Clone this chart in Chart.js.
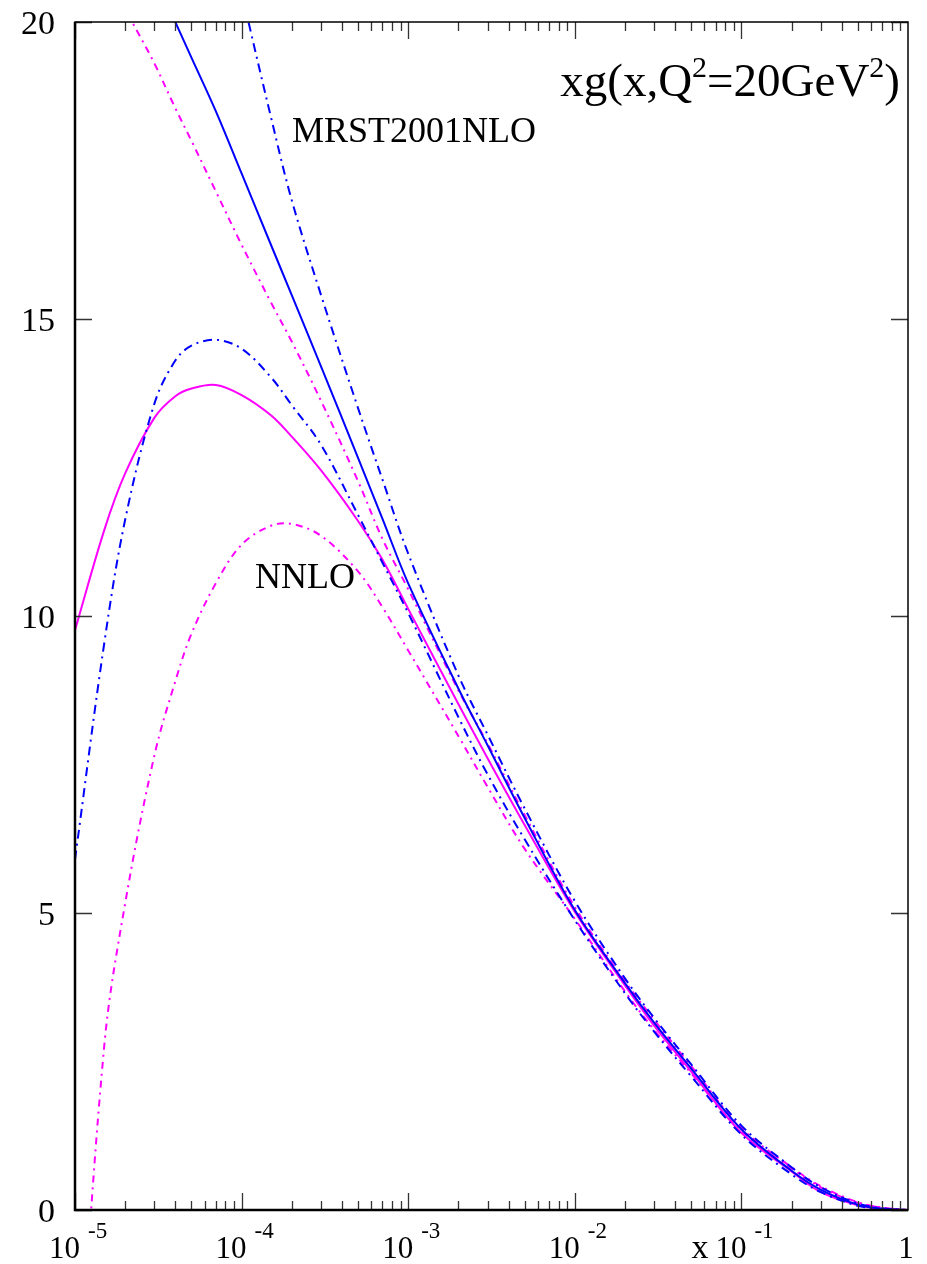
<!DOCTYPE html>
<html>
<head>
<meta charset="utf-8">
<script src="https://cdn.jsdelivr.net/npm/chart.js@4.4.1/dist/chart.umd.min.js"></script>
<style>
  body { margin: 0; background: #fff; }
  #wrap { width: 927px; height: 1264px; position: relative; }
</style>
</head>
<body>
<div id="wrap"><canvas id="chart"></canvas></div>
<script>
// x grid shared by all curves
const xVals = [1e-5, 1.5e-5, 2e-5, 3e-5, 4e-5, 5e-5, 7e-5, 1e-4, 1.5e-4, 2e-4, 3e-4, 5e-4, 7e-4,
  1e-3, 2e-3, 3e-3, 5e-3, 1e-2, 2e-2, 3e-2, 5e-2, 0.1, 0.2, 0.3, 0.5, 0.7, 1];

// MRST2001 NLO (blue)
const nloCentral = [24.0, 22.8, 21.85, 20.75, 20.0, 19.4, 18.5, 17.45, 16.25, 15.4, 14.2, 12.66, 11.64,
  10.55, 8.78, 7.82, 6.6, 5.05, 3.82, 3.15, 2.38, 1.36, 0.66, 0.34, 0.09, 0.02, 0];
const nloUpper = [null, null, null, null, null, null, 22.4, 20.5, 18.4, 17.0, 15.4, 13.5, 12.3,
  11.05, 9.0, 8.0, 6.76, 5.2, 3.9, 3.23, 2.45, 1.42, 0.72, 0.38, 0.11, 0.03, 0];
const nloLower = [5.9, 9.55, 11.62, 13.58, 14.3, 14.55, 14.65, 14.5, 14.02, 13.55, 12.88, 11.7, 10.9,
  10.05, 8.3, 7.33, 6.24, 4.88, 3.65, 3.0, 2.25, 1.27, 0.6, 0.3, 0.07, 0.02, 0];

// NNLO (magenta)
const nnloCentral = [9.76, 11.45, 12.4, 13.34, 13.7, 13.83, 13.89, 13.72, 13.38, 13.02, 12.45, 11.6, 10.95,
  10.12, 8.52, 7.6, 6.48, 5.02, 3.78, 3.1, 2.33, 1.3, 0.65, 0.3, 0.08, 0.02, 0];
const nnloUpper = [22.2, 21.2, 20.25, 19.3, 18.55, 18.0, 17.15, 16.25, 15.28, 14.62, 13.62, 12.27, 11.3,
  10.45, 8.75, 7.85, 6.65, 5.1, 3.85, 3.2, 2.42, 1.38, 0.72, 0.4, 0.13, 0.04, 0];
const nnloLower = [-4.0, 2.78, 5.16, 7.66, 8.9, 9.7, 10.55, 11.2, 11.52, 11.55, 11.35, 10.75, 10.15,
  9.42, 7.98, 7.12, 6.08, 4.9, 3.68, 3.03, 2.3, 1.32, 0.7, 0.38, 0.12, 0.04, 0];

const yTicks = [0, 5, 10, 15, 20];
const xDecades = [-5, -4, -3, -2, -1];

const BLUE = '#0000ff';
const MAGENTA = '#ff00ff';
const SERIF = '"Liberation Serif", "DejaVu Serif", serif';

function pts(ys) {
  return xVals.map((x, i) => ({ x: x, y: ys[i] }));
}

function line(ys, color, dash) {
  return {
    data: pts(ys),
    borderColor: color,
    borderWidth: 2,
    borderDash: dash,
    pointRadius: 0,
    fill: false,
    tension: 0.35,
    spanGaps: false
  };
}

// text run with raised pieces (superscripts)
function supText(ctx, parts, x, y, align) {
  let w = 0;
  parts.forEach(p => { ctx.font = p[1] + 'px ' + SERIF; w += ctx.measureText(p[0]).width; });
  let cx = align === 'right' ? x - w : align === 'center' ? x - w / 2 : x;
  ctx.textAlign = 'left';
  parts.forEach(p => {
    ctx.font = p[1] + 'px ' + SERIF;
    ctx.fillText(p[0], cx, y - p[2]);
    cx += ctx.measureText(p[0]).width;
  });
}

const decor = {
  id: 'decor',
  afterDraw(chart) {
    const { ctx, chartArea: a, scales: { x, y } } = chart;
    ctx.save();
    // tick marks, pointing inwards on all four sides
    ctx.strokeStyle = '#333';
    ctx.lineWidth = 1.3;
    ctx.beginPath();
    for (let k = -5; k < 0; k++) {
      for (let m = 1; m <= 9; m++) {
        const px = Math.round(x.getPixelForValue(m * Math.pow(10, k))) + 0.5;
        const len = m === 1 ? 17 : 9;
        ctx.moveTo(px, a.bottom); ctx.lineTo(px, a.bottom - len);
        ctx.moveTo(px, a.top); ctx.lineTo(px, a.top + len);
      }
    }
    yTicks.forEach(v => {
      const py = Math.round(y.getPixelForValue(v)) + 0.5;
      ctx.moveTo(a.left, py); ctx.lineTo(a.left + 17, py);
      ctx.moveTo(a.right, py); ctx.lineTo(a.right - 17, py);
    });
    ctx.stroke();

    // frame
    ctx.strokeStyle = '#000';
    ctx.lineWidth = 1.5;
    ctx.strokeRect(a.left, a.top, a.right - a.left, a.bottom - a.top);
    ctx.lineWidth = 2.5;
    ctx.beginPath();
    ctx.moveTo(a.left, a.top); ctx.lineTo(a.left, a.bottom); ctx.lineTo(a.right, a.bottom);
    ctx.stroke();

    ctx.fillStyle = '#000';
    ctx.textBaseline = 'alphabetic';
    // y labels
    ctx.font = '34px ' + SERIF;
    ctx.textAlign = 'right';
    yTicks.forEach(v => {
      ctx.fillText(String(v), a.left - 20, y.getPixelForValue(v) + 12);
    });
    // x labels
    xDecades.forEach(k => {
      const px = x.getPixelForValue(Math.pow(10, k));
      ctx.font = '31px ' + SERIF;
      ctx.textAlign = 'right';
      ctx.fillText('10', px + 5, 1258);
      ctx.font = '23px ' + SERIF;
      ctx.textAlign = 'left';
      ctx.fillText(String(k), px + 13, 1238);
    });
    ctx.font = '31px ' + SERIF;
    ctx.textAlign = 'center';
    ctx.fillText('1', x.getPixelForValue(1) - 2, 1258);
    ctx.font = '34px ' + SERIF;
    ctx.fillText('x', 700, 1258);

    // annotations
    ctx.font = '36px ' + SERIF;
    ctx.textAlign = 'left';
    ctx.fillText('MRST2001NLO', 292, 142);
    ctx.fillText('NNLO', 255, 588);
    supText(ctx, [['xg(x,Q', 47, 0], ['2', 30, 19], ['=20GeV', 47, 0], ['2', 30, 19], [')', 47, 0]], 900, 96, 'right');
    ctx.restore();
  }
};

new Chart(document.getElementById('chart').getContext('2d'), {
  type: 'line',
  data: {
    datasets: [
      line(nloCentral, BLUE, []),
      line(nloUpper, BLUE, [9, 5, 2, 5]),
      line(nloLower, BLUE, [9, 5, 2, 5]),
      line(nnloCentral, MAGENTA, []),
      line(nnloUpper, MAGENTA, [7, 5, 2, 5]),
      line(nnloLower, MAGENTA, [7, 5, 2, 5])
    ]
  },
  options: {
    responsive: true,
    maintainAspectRatio: false,
    animation: false,
    layout: { padding: { left: 75, right: 19, top: 22, bottom: 54 } },
    plugins: { legend: { display: false }, tooltip: { enabled: false } },
    scales: {
      x: { type: 'logarithmic', min: 1e-5, max: 1, display: false },
      y: { type: 'linear', min: 0, max: 20, display: false }
    }
  },
  plugins: [decor]
});
</script>
</body>
</html>
